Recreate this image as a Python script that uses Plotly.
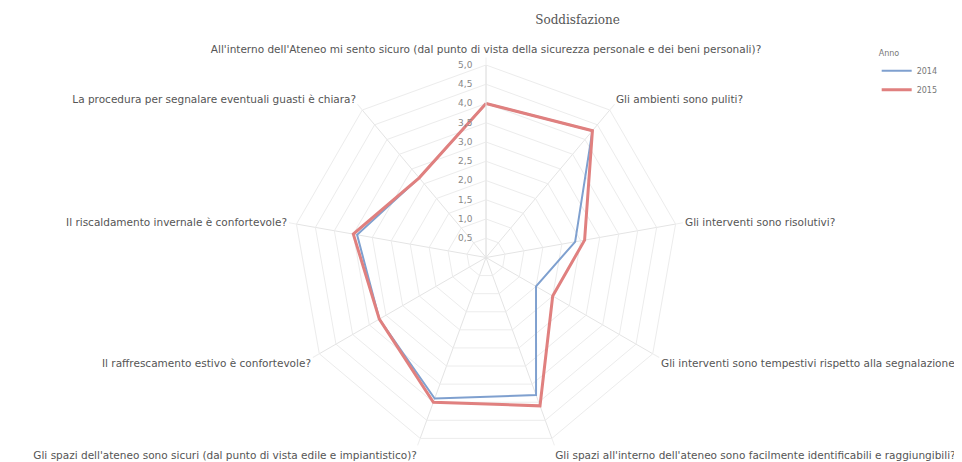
import plotly.graph_objects as go

categories = [
    "All'interno dell'Ateneo mi sento sicuro (dal punto di vista della sicurezza personale e dei beni personali)?",
    "Gli ambienti sono puliti?",
    "Gli interventi sono risolutivi?",
    "Gli interventi sono tempestivi rispetto alla segnalazione?",
    "Gli spazi all'interno dell'ateneo sono facilmente identificabili e raggiungibili?",
    "Gli spazi dell'ateneo sono sicuri (dal punto di vista edile e impiantistico)?",
    "Il raffrescamento estivo è confortevole?",
    "Il riscaldamento invernale è confortevole?",
    "La procedura per segnalare eventuali guasti è chiara?",
]
values_2014 = [4.0, 4.3, 2.35, 1.5, 3.8, 3.9, 3.2, 3.4, 2.7]
values_2015 = [4.0, 4.3, 2.6, 2.0, 4.1, 4.0, 3.2, 3.5, 2.7]
radial_ticks = [0.5, 1.0, 1.5, 2.0, 2.5, 3.0, 3.5, 4.0, 4.5, 5.0]

fig = go.Figure()
for name, vals, color, width in [("2014", values_2014, "#7fa0cf", 2),
                                 ("2015", values_2015, "#e0807f", 3)]:
    fig.add_trace(go.Scatterpolar(
        r=vals + vals[:1], theta=categories + categories[:1],
        mode="lines", name=name, line=dict(color=color, width=width),
    ))

fig.update_layout(
    width=962, height=462,
    paper_bgcolor="white",
    separators=",.",
    font=dict(family="DejaVu Sans, sans-serif", size=10.5, color="#555"),
    margin=dict(l=0, r=0, t=57, b=20),
    title=dict(text="Soddisfazione", x=0.592, y=0.975, xanchor="center", yanchor="middle",
               font=dict(family="DejaVu Serif", size=12, color="#555")),
    legend=dict(title=dict(text="Anno", font=dict(size=8, color="#777")),
                x=0.903, y=1.05, xanchor="left", yanchor="top",
                font=dict(size=8, color="#777"), itemwidth=30),
    polar=dict(
        domain=dict(x=[0, 0.9938], y=[0, 1]),
        bgcolor="white",
        gridshape="linear",
        radialaxis=dict(range=[0, 5], tickvals=radial_ticks, tickformat=".1f",
                        angle=90, tickangle=90, side="counterclockwise",
                        showline=True, linecolor="#e6e6e6", gridcolor="#ececec",
                        ticks="outside", ticklen=10, tickcolor="rgba(0,0,0,0)",
                        tickfont=dict(size=9, color="#888")),
        angularaxis=dict(rotation=90, direction="clockwise",
                         showline=True, linecolor="#ececec", gridcolor="#e4e4e4",
                         ticks="outside", ticklen=7, tickcolor="#eeeeee",
                         tickfont=dict(size=10.5, color="#555")),
    ),
)
fig.write_html("out.html")
